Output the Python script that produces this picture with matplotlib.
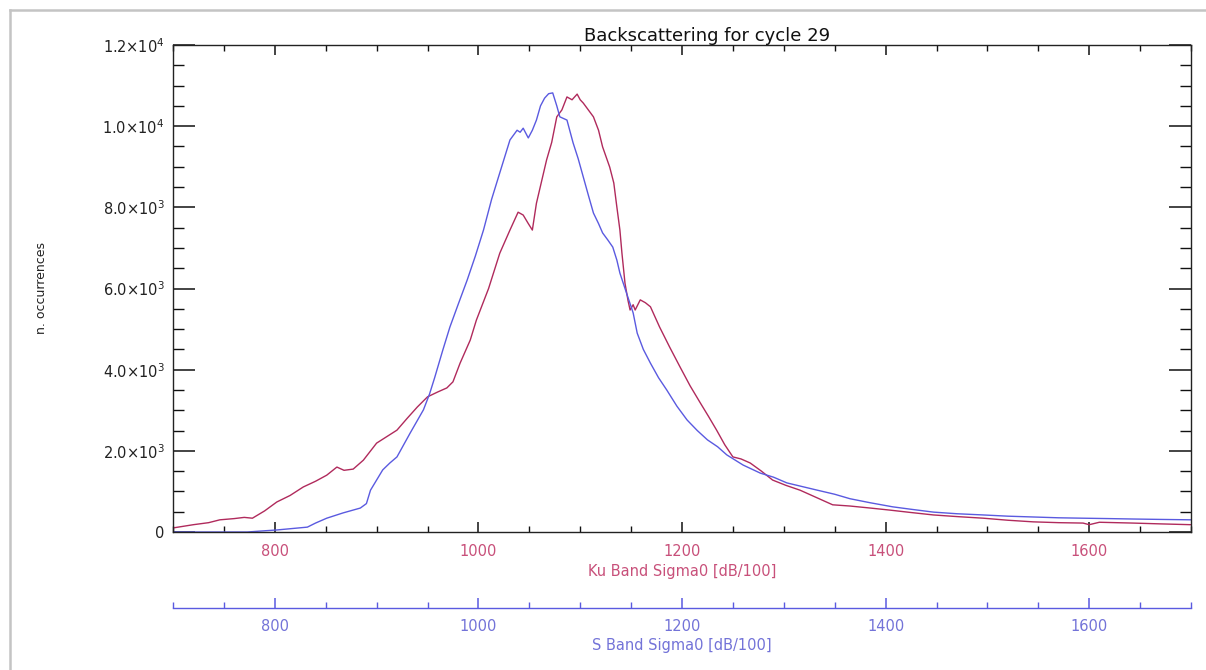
import matplotlib
matplotlib.use("Agg")
import matplotlib.pyplot as plt
from matplotlib.ticker import MultipleLocator, FixedLocator
from matplotlib.lines import Line2D

plt.rcParams['font.family'] = ['DejaVu Sans']
plt.rcParams['mathtext.default'] = 'regular'

# Ku band histogram (red)
ku_x = [700, 720, 735, 746, 760, 770, 778, 790, 802, 815, 828, 840, 851, 861, 868, 877, 887,
        900, 910, 920, 930, 940, 950, 960, 969, 975, 982, 992, 998, 1010, 1021, 1031, 1039,
        1044, 1049, 1053, 1057, 1067, 1072, 1077, 1082, 1087, 1092, 1097, 1100, 1103, 1108,
        1113, 1118, 1122, 1129, 1133, 1136, 1139, 1141, 1144, 1147, 1149, 1152, 1154, 1159,
        1164, 1169, 1178, 1188, 1198, 1208, 1218, 1226, 1234, 1242, 1250, 1258, 1267, 1278,
        1289, 1302, 1316, 1332, 1348, 1365, 1385, 1404, 1425, 1447, 1470, 1496, 1520, 1545,
        1570, 1594, 1600, 1610, 1643, 1670, 1700]
ku_y = [100, 180, 230, 300, 330, 360, 340, 520, 740, 900, 1110, 1250, 1400, 1600, 1520, 1550, 1770,
        2190, 2350, 2510, 2800, 3080, 3330, 3450, 3550, 3700, 4160, 4730, 5220, 6000, 6870, 7440, 7880,
        7810, 7600, 7440, 8100, 9170, 9600, 10230, 10400, 10720, 10650, 10790, 10650, 10570, 10400,
        10230, 9900, 9490, 8990, 8600, 8010, 7440, 6870, 6130, 5700, 5470, 5600, 5470, 5720,
        5650, 5550, 5050, 4550, 4070, 3600, 3180, 2850, 2510, 2150, 1850, 1800, 1700, 1500,
        1280, 1150, 1030, 850, 670, 640, 590, 540, 480, 420, 380, 340, 290, 250,
        230, 220, 180, 240, 220, 200, 180]

# S band histogram (blue)
s_x = [700, 773, 790, 802, 832, 840, 851, 867, 884, 890, 894, 906, 913, 920, 933, 946, 952,
       957, 965, 972, 980, 989, 997, 1005, 1013, 1021, 1031, 1038, 1041, 1044, 1049, 1053,
       1057, 1061, 1065, 1069, 1073, 1077, 1080, 1087, 1093, 1098, 1103, 1108, 1113, 1118,
       1122, 1127, 1132, 1136, 1139, 1146, 1152, 1156, 1162, 1169, 1177, 1185, 1195, 1205,
       1215, 1225, 1235, 1244, 1260, 1277, 1290, 1303, 1318, 1333, 1350, 1365, 1385, 1407,
       1425, 1447, 1470, 1496, 1520, 1545, 1570, 1594, 1620, 1643, 1670, 1700]
s_y = [0, 0, 30, 50, 120, 220, 340, 470, 590, 700, 1030, 1530, 1700, 1850, 2440, 3010, 3400,
       3800, 4480, 5050, 5600, 6210, 6800, 7440, 8200, 8850, 9660, 9900, 9850, 9950, 9710, 9900,
       10150, 10500, 10690, 10800, 10820, 10500, 10230, 10150, 9590, 9200, 8750, 8300, 7860, 7600,
       7370, 7200, 7020, 6700, 6380, 5850, 5400, 4900, 4500, 4160, 3800, 3500, 3100, 2760,
       2500, 2270, 2100, 1900, 1650, 1450, 1350, 1210, 1120, 1030, 930, 820, 720, 620,
       560, 490, 450, 420, 390, 370, 350, 340, 330, 320, 310, 300]

x_ticks = [800, 1000, 1200, 1400, 1600]
y_ticks = [0, 2000, 4000, 6000, 8000, 10000, 12000]
y_labels = ['0', '2.0×10$^3$', '4.0×10$^3$', '6.0×10$^3$', '8.0×10$^3$', '1.0×10$^4$', '1.2×10$^4$']

title = 'Backscattering for cycle 29'
ku_label = 'Ku Band Sigma0 [dB/100]'
s_label = 'S Band Sigma0 [dB/100]'
y_label = 'n. occurrences'

RED = '#b02a5c'
RED_TXT = '#c8507a'
BLUE = '#5a5ae0'
BLUE_TXT = '#7373d8'

W, H = 1206, 670
fig = plt.figure(figsize=(W / 100, H / 100), dpi=100)

# light gray frame
fig.add_artist(Line2D([10 / W, 1], [1 - 10 / H, 1 - 10 / H], color='#c4c4c4', lw=1.8,
                      transform=fig.transFigure))
fig.add_artist(Line2D([10 / W, 10 / W], [0, 1 - 10 / H], color='#c4c4c4', lw=1.8,
                      transform=fig.transFigure))

l, r, t, b = 173, 1191, 45, 532
ax = fig.add_axes([l / W, 1 - b / H, (r - l) / W, (b - t) / H])

ax.plot(ku_x, ku_y, color=RED, lw=1.0)
ax.plot(s_x, s_y, color=BLUE, lw=1.0)

ax.set_xlim(700, 1700)
ax.set_ylim(0, 12000)

for sp in ax.spines.values():
    sp.set_color('#222222')
    sp.set_linewidth(1.0)

ax.xaxis.set_major_locator(FixedLocator(x_ticks))
ax.xaxis.set_minor_locator(MultipleLocator(50))
ax.yaxis.set_major_locator(FixedLocator(y_ticks))
ax.yaxis.set_minor_locator(MultipleLocator(500))
ax.set_yticklabels(y_labels)

ax.tick_params(axis='x', which='major', direction='in', length=7.5, width=1.1, top=True,
               color='#111111', labelcolor=RED_TXT, labelsize=10.5, pad=9)
ax.tick_params(axis='x', which='minor', direction='in', length=4, width=1.0, top=True,
               color='#111111')
ax.tick_params(axis='y', which='major', direction='in', length=15.8, width=1.1, right=True,
               color='#111111', labelcolor='#222222', labelsize=10.5, pad=6)
ax.tick_params(axis='y', which='minor', direction='in', length=8, width=1.0, right=True,
               color='#111111')

ax.set_xlabel(ku_label, color=RED_TXT, fontsize=10.5, labelpad=3)
ax.set_ylabel(y_label, color='#222222', fontsize=9, labelpad=39)
ax.set_title(title, fontsize=13, color='#111111', pad=3, x=0.525)

# S band secondary axis
sec = ax.secondary_xaxis(-(608 - b) / (b - t))
sec.spines['bottom'].set_color(BLUE)
sec.spines['bottom'].set_linewidth(1.0)
sec.xaxis.set_major_locator(FixedLocator(x_ticks))
sec.xaxis.set_minor_locator(MultipleLocator(50))
sec.tick_params(axis='x', which='major', direction='in', length=7.5, width=1.1, color=BLUE,
                labelcolor=BLUE_TXT, labelsize=10.5, pad=8)
sec.tick_params(axis='x', which='minor', direction='in', length=4, width=1.0, color=BLUE)
sec.set_xlabel(s_label, color=BLUE_TXT, fontsize=10.5, labelpad=3)

fig.savefig('out.png', dpi=100)
